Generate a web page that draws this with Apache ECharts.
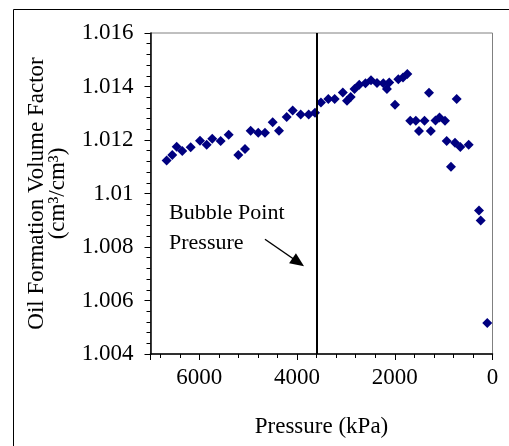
<!DOCTYPE html>
<html>
<head>
<meta charset="utf-8">
<script src="https://cdn.jsdelivr.net/npm/echarts@6/dist/echarts.min.js"></script>
<style>html,body{margin:0;padding:0;background:#fff;}#c{width:509px;height:446px;}</style>
</head>
<body>
<div id="c"></div>
<script>
var pressure = [6670,6555,6464,6350,6178,5987,5850,5736,5564,5400,5203,5066,4950,4794,4657,4499,4370,4213,4090,3926,3762,3633,3511,3361,3230,3064,2978,2903,2825,2727,2600,2487,2364,2235,2160,2113,1996,1928,1832,1744,1300,733,1683,1570,1505,1392,1263,1167,1085,972,938,768,659,487,850,276,242,108];
var bo = [1.01123,1.01144,1.01175,1.01159,1.01173,1.01197,1.01182,1.01205,1.01196,1.01220,1.01144,1.01166,1.01235,1.01227,1.01227,1.01266,1.01235,1.01286,1.01310,1.01295,1.01295,1.01302,1.01340,1.01353,1.01353,1.01378,1.01347,1.01361,1.01391,1.01407,1.01412,1.01423,1.01413,1.01412,1.01391,1.01415,1.01332,1.01427,1.01434,1.01447,1.01377,1.01353,1.01272,1.01272,1.01234,1.01272,1.01234,1.01273,1.01284,1.01272,1.01196,1.01190,1.01174,1.01182,1.01100,1.00936,1.00899,1.00516];
var bubblePoint = 3600;
var xTicks = [0, 2000, 4000, 6000];
var yTickLabels = ['1.004','1.006','1.008','1.01','1.012','1.014','1.016'];

var pts = pressure.map(function(p, i){ return [p, bo[i]]; });
var font = 'Liberation Serif';
var chart = echarts.init(document.getElementById('c'));
chart.setOption({
  animation: false,
  backgroundColor: '#fff',
  graphic: [{
    type: 'rect', shape: {x: 13.5, y: 9.5, width: 700, height: 700},
    style: {fill: 'none', stroke: '#000', lineWidth: 1}, z: -1
  }, {
    type: 'text', left: 169, top: 198,
    style: {text: 'Bubble Point\nPressure', font: '22px "Liberation Serif"', fill: '#000', lineHeight: 30}
  }],
  grid: {left: 150.5, top: 33, right: 16.5, bottom: 92, show: true, borderColor: '#808080', borderWidth: 1},
  xAxis: {
    type: 'value', inverse: true, min: 0, max: 7000, interval: 2000,
    name: 'Pressure (kPa)', nameLocation: 'middle', nameGap: 61,
    nameTextStyle: {fontFamily: font, fontSize: 23, color: '#000'},
    axisLine: {show: true, onZero: false, lineStyle: {color: '#000', width: 1.5}},
    axisTick: {show: true, inside: false, length: 6, lineStyle: {color: '#000'}},
    minorTick: {show: true, splitNumber: 5, length: 4, lineStyle: {color: '#000'}},
    splitLine: {show: false},
    axisLabel: {fontFamily: font, fontSize: 23, color: '#000', margin: 12,
      formatter: function(v){ return xTicks.indexOf(v) >= 0 ? String(v) : ''; }}
  },
  yAxis: {
    type: 'value', min: 1.004, max: 1.016, interval: 0.002,
    name: 'Oil Formation Volume Factor\n(cm³/cm³)', nameLocation: 'middle', nameGap: 82, nameRotate: 90,
    nameTextStyle: {fontFamily: font, fontSize: 23, color: '#000', lineHeight: 21, align: 'center'},
    axisLine: {show: true, onZero: false, lineStyle: {color: '#000', width: 1.5}},
    axisTick: {show: true, inside: false, length: 6, lineStyle: {color: '#000'}},
    minorTick: {show: true, splitNumber: 5, length: 4, lineStyle: {color: '#000'}},
    splitLine: {show: false},
    axisLabel: {fontFamily: font, fontSize: 23, color: '#000', margin: 17,
      formatter: function(v){ var i = Math.round((v - 1.004) / 0.002); return yTickLabels[i] || ''; }}
  },
  series: [{
    type: 'scatter', data: pts, symbol: 'diamond', symbolSize: [10, 10],
    itemStyle: {color: '#000080', opacity: 1},
    markLine: {
      silent: true, symbol: ['none', 'none'], animation: false,
      lineStyle: {color: '#000', width: 2, type: 'solid', opacity: 1}, label: {show: false},
      data: [
        [{coord: [bubblePoint, 1.004]}, {coord: [bubblePoint, 1.016]}],
        [{coord: [4657, 1.00829], symbol: 'none'}, {coord: [3975, 1.00743], symbol: 'triangle', symbolSize: [12, 14], lineStyle: {width: 1.5}}]
      ]
    }
  }]
});
</script>
</body>
</html>
